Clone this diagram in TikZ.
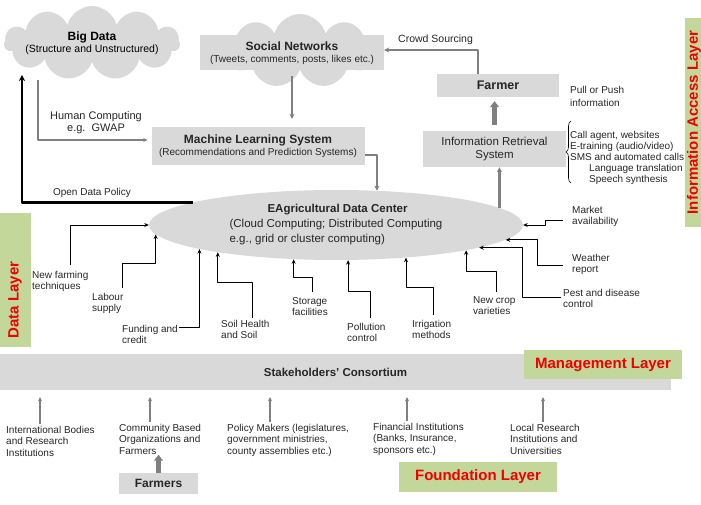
\documentclass[tikz,border=0pt]{standalone}
\usepackage{fontspec}
\setmainfont{Liberation Sans}
\usetikzlibrary{shapes.symbols,shapes.geometric,decorations.pathreplacing,arrows.meta}
\definecolor{boxgray}{HTML}{D9D9D9}
\definecolor{linegray}{HTML}{808080}
\definecolor{layergreen}{HTML}{C4D79B}
\definecolor{layerred}{HTML}{F00000}
\begin{document}
\begin{tikzpicture}[x=1pt, y=-1pt, line join=round,
  box/.style={fill=boxgray, inner sep=0pt, align=center, text=black!85},
  lbl/.style={font=\fontsize{10}{11.5}\selectfont, align=left, anchor=north west, inner sep=0pt, text=black!85},
  feed/.style={-{Stealth[length=4.5pt,width=4pt]}, line width=0.8pt},
  flow/.style={-{Stealth[length=5pt,width=5pt]}, draw=linegray, line width=2.2pt},
  bigflow/.style={-{Triangle[length=6pt,width=9pt]}, draw=linegray, line width=4.5pt},
  upar/.style={-{Stealth[length=4pt,width=4pt]}, draw=linegray, line width=2pt, shorten <=2pt, shorten >=7pt},
  layer/.style={fill=layergreen, text=layerred, font=\fontsize{15}{18}\selectfont\bfseries, inner sep=0pt}]
\useasboundingbox (0,0) rectangle (701,505);
% top row
\node[cloud, cloud puffs=11, aspect=2.4, fill=boxgray, minimum width=176, minimum height=74, inner sep=0pt] (bdpuff) at (92,43) {};
\node[align=center, inner sep=0pt] (bd) at (92,43)
  {{\fontsize{12}{14}\selectfont\bfseries Big Data}\\{\fontsize{10.5}{13}\selectfont (Structure and Unstructured)}};
\node[cloud, cloud puffs=9, aspect=2, fill=boxgray, minimum width=150, minimum height=74] (snpuff) at (300,51) {};
\node[box, minimum width=184, minimum height=35] (sn) at (292,53)
  {{\fontsize{12}{14}\selectfont\bfseries Social Networks}\\{\fontsize{10}{13}\selectfont (Tweets, comments, posts, likes etc.)}};
\node[box, minimum width=213, minimum height=38] (ml) at (258,146)
  {{\fontsize{12}{14}\selectfont\bfseries Machine Learning System}\\{\fontsize{10}{13}\selectfont (Recommendations and Prediction Systems)}};
\node[box, minimum width=122, minimum height=23, font=\fontsize{12.5}{14}\selectfont\bfseries] (fr) at (498,85.5) {Farmer};
\node[box, minimum width=143, minimum height=36, font=\fontsize{11.5}{13}\selectfont] (ir) at (494.5,149) {Information Retrieval\\System};
\node[ellipse, fill=boxgray, minimum width=374, minimum height=70, inner sep=0pt, align=left, text=black!85, font=\fontsize{11.5}{15}\selectfont] (dc) at (336,225)
  {\hspace*{38pt}\textbf{EAgricultural Data Center}\\(Cloud Computing; Distributed Computing\\e.g., grid or cluster computing)};
\node[font=\fontsize{11}{12}\selectfont, align=center, text=black!85] (hcl) at (96,123) {Human Computing\\e.g.\ \ GWAP};
\node[font=\fontsize{10}{12}\selectfont, text=black!85] (odl) at (92,193) {Open Data Policy};
\node[font=\fontsize{10.5}{12}\selectfont, anchor=west, inner sep=0pt, text=black!85] (csl) at (398,40) {Crowd Sourcing};
\node[lbl, font=\fontsize{10}{13}\selectfont] (pp) at (570,86) {Pull or Push\\information};
\node[lbl, font=\fontsize{10}{11}\selectfont] (chn) at (570,131) {Call agent, websites\\E-training (audio/video)\\SMS and automated calls\\\hspace*{19pt}Language translation\\\hspace*{19pt}Speech synthesis};
\draw[decorate, decoration={brace, amplitude=5pt}, line width=0.6pt] (571,183) -- (571,121);
\draw[flow] (sn.south |- snpuff.south) -- (sn.south |- ml.north) [shorten <=6pt, shorten >=8pt];
\draw[flow] ([yshift=-9pt]ml.east) -| (dc.40.4);
\draw[flow] (dc.6.9) -- (dc.6.9 |- ir.south);
\draw[bigflow, shorten <=6pt, shorten >=4pt] (ir.north) -- (ir.north |- fr.south);
\draw[flow] ([xshift=-20pt]fr.north) |- ([yshift=3pt]sn.east);
\draw[-{Stealth[length=4pt,width=4pt]}, draw=linegray, line width=1.3pt] ([xshift=-54pt,yshift=-37pt]bdpuff.center) |- ([yshift=6pt,xshift=-4pt]ml.west);
\draw[-{Stealth[length=6pt,width=6pt]}, line width=2.6pt] (dc.171.4) -| ([xshift=-70pt,yshift=-32pt]bdpuff.center);
% inputs of the data center
\node[lbl] (nft) at (32,271) {New farming\\techniques};
\node[lbl] (lab) at (92,293) {Labour\\supply};
\node[lbl] (fund) at (122,325) {Funding and\\credit};
\node[lbl] (soil) at (221,320) {Soil Health\\and Soil};
\node[lbl] (sto) at (292,297) {Storage\\facilities};
\node[lbl] (pol) at (347,323) {Pollution\\control};
\node[lbl] (irr) at (412,320) {Irrigation\\methods};
\node[lbl] (ncv) at (473,296) {New crop\\varieties};
\node[lbl] (pest) at (563,289) {Pest and disease\\control};
\node[lbl] (wea) at (572,254) {Weather\\report};
\node[lbl] (mkt) at (572,206) {Market\\availability};
\draw[feed] ([xshift=38pt,yshift=6pt]nft.north west) |- (dc.west);
\draw[feed] ([xshift=30pt,yshift=5pt]lab.north west) -- ++(0,-25) -| (dc.183.6);
\draw[feed] ([xshift=57pt,yshift=-2pt]fund.north west) -| (dc.190.7);
\draw[feed] ([xshift=31pt,yshift=2pt]soil.north west) -- ++(0,-36) -| (dc.193.9);
\draw[feed] ([xshift=20pt,yshift=5pt]sto.north west) -- ++(0,-15) -| (dc.219);
\draw[feed] ([xshift=23pt,yshift=5pt]pol.north west) -- ++(0,-27) -| (dc.289);
\draw[feed] ([xshift=21pt,yshift=5pt]irr.north west) -- ++(0,-28) -| (dc.335.4);
\draw[feed] ([xshift=23pt,yshift=4pt]ncv.north west) -- ++(0,-21) -| (dc.349.3);
\draw[feed] ([xshift=-2pt,yshift=-8pt]pest.north west) -- ++(-39,0) |- (dc.351.4);
\draw[feed] ([xshift=-9pt,yshift=-11pt]wea.north west) -- ++(-26,0) |- (dc.355.3);
\draw[feed] ([xshift=-9pt,yshift=-14pt]mkt.north west) -- ++(-18,0) |- (dc.east);
% layers
\node[layer, minimum width=209, minimum height=18, rotate=90] (ial) at (694,122.5) {Information Access Layer};
\fill[layergreen] (0,213) rectangle (31,347);
\node[layer, rotate=90] (dl) at (15,300) {Data Layer};
\node[box, minimum width=671, minimum height=36, font=\fontsize{11.5}{14}\selectfont\bfseries] (cons) at (335.5,372) {Stakeholders' Consortium};
\node[layer, minimum width=158, minimum height=29] (mgl) at (603,364.5) {Management Layer};
\node[layer, minimum width=158, minimum height=30] (fdl) at (478,477) {Foundation Layer};
% stakeholders
\node[lbl] (intl) at (6,426) {International Bodies\\and Research\\Institutions};
\node[lbl] (cbo) at (119,424) {Community Based\\Organizations and\\Farmers};
\node[lbl] (pmk) at (227,424) {Policy Makers (legislatures,\\government ministries,\\county assemblies etc.)};
\node[lbl] (fin) at (373,423) {Financial Institutions\\(Banks, Insurance,\\sponsors etc.)};
\node[lbl] (lri) at (510,424) {Local Research\\Institutions and\\Universities};
\node[box, minimum width=79, minimum height=21, font=\fontsize{12}{14}\selectfont\bfseries] (fm) at (158.5,483.5) {Farmers};
\draw[upar] ([xshift=34pt]intl.north west) -- ([xshift=34pt]intl.north west |- cons.south);
\draw[upar] ([xshift=31pt]cbo.north west) -- ([xshift=31pt]cbo.north west |- cons.south);
\draw[upar] ([xshift=43pt]pmk.north west) -- ([xshift=43pt]pmk.north west |- cons.south);
\draw[upar] ([xshift=34pt]fin.north west) -- ([xshift=34pt]fin.north west |- cons.south);
\draw[upar] ([xshift=33pt]lri.north west) -- ([xshift=33pt]lri.north west |- cons.south);
\draw[bigflow] (fm.north) -- (fm.north |- cbo.south);
\end{tikzpicture}
\end{document}
